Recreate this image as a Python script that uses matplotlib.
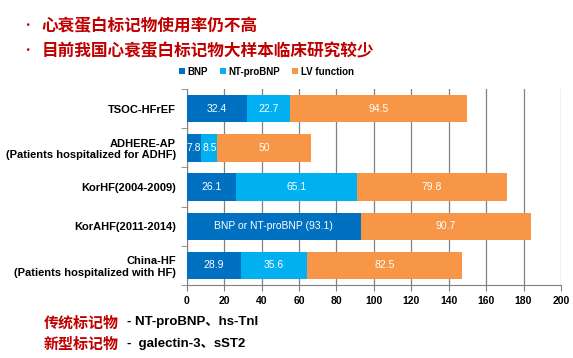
import matplotlib.pyplot as plt
import numpy as np

plt.rcParams['font.family'] = ['Liberation Sans', 'Noto Sans CJK SC', 'DejaVu Sans']

studies = ["TSOC-HFrEF",
           "ADHERE-AP\n(Patients hospitalized for ADHF)",
           "KorHF(2004-2009)",
           "KorAHF(2011-2014)",
           "China-HF\n(Patients hospitalized with HF)"]
bnp = [32.4, 7.8, 26.1, 93.1, 28.9]
ntprobnp = [22.7, 8.5, 65.1, 0, 35.6]
lv_function = [94.5, 50, 79.8, 90.7, 82.5]
bnp_labels = ["32.4", "7.8", "26.1", "BNP or NT-proBNP (93.1)", "28.9"]

c_bnp = "#0070C0"
c_nt = "#00B0F0"
c_lv = "#F79646"
red = "#C00000"

fig = plt.figure(figsize=(5.73, 3.58), dpi=100)
ax = fig.add_axes([0.326, 0.204, 0.653, 0.547])

y = np.arange(len(studies))
h = 0.7
b1 = ax.barh(y, bnp, height=h, color=c_bnp, label="BNP", zorder=3)
left2 = np.array(bnp)
b2 = ax.barh(y, ntprobnp, left=left2, height=h, color=c_nt, label="NT-proBNP", zorder=3)
left3 = left2 + np.array(ntprobnp)
b3 = ax.barh(y, lv_function, left=left3, height=h, color=c_lv, label="LV function", zorder=3)

# white value labels centred in each segment
lab_kw = dict(color="white", fontsize=7.5, va="center", ha="center", zorder=4)
for i in range(len(studies)):
    ax.text(bnp[i] / 2, y[i], bnp_labels[i], **lab_kw)
    if ntprobnp[i] > 0:
        ax.text(left2[i] + ntprobnp[i] / 2, y[i], "%g" % ntprobnp[i], **lab_kw)
    ax.text(left3[i] + lv_function[i] / 2, y[i], "%g" % lv_function[i], **lab_kw)

ax.set_xlim(0, 200)
ax.set_ylim(len(studies) - 0.5, -0.5)
ax.set_xticks(np.arange(0, 201, 20))
ax.set_xticklabels([str(v) for v in range(0, 201, 20)], fontsize=7.5, fontweight="bold")
ax.set_yticks(y)
ax.set_yticklabels(studies, fontsize=8, fontweight="bold", linespacing=1.2)
ax.tick_params(axis="y", length=0, pad=8)
ax.set_yticks(np.arange(-0.5, len(studies), 1), minor=True)
ax.tick_params(axis="y", which="minor", length=4, color="#808080")
ax.tick_params(axis="x", length=4, color="#808080", pad=4)
ax.grid(axis="x", color="#808080", linewidth=0.9, zorder=0)
for s in ["top", "right"]:
    ax.spines[s].set_visible(False)
for s in ["left", "bottom"]:
    ax.spines[s].set_color("#808080")

fig.legend(handles=[b1, b2, b3], loc="center", bbox_to_anchor=(0.465, 0.80), ncol=3,
           frameon=False, handlelength=0.6, handleheight=0.6,
           handletextpad=0.3, columnspacing=1.2, prop={"weight": "bold", "size": 7})

title_font = ['Noto Sans CJK SC', 'DejaVu Sans']
fig.text(0.036, 0.928, "•", color=red, fontsize=9, va="center", family=title_font)
fig.text(0.073, 0.928, "心衰蛋白标记物使用率仍不高", color=red, fontsize=12,
         va="center", family=title_font, fontweight="bold")
fig.text(0.036, 0.858, "•", color=red, fontsize=9, va="center", family=title_font)
fig.text(0.073, 0.858, "目前我国心衰蛋白标记物大样本临床研究较少", color=red, fontsize=12,
         va="center", family=title_font, fontweight="bold")

fig.text(0.076, 0.100, "传统标记物", color=red, fontsize=10.8, va="center",
         family=title_font, fontweight="bold")
fig.text(0.222, 0.100, "- NT-proBNP、hs-TnI", color="black", fontsize=9.5, va="center",
         family=['Liberation Sans', 'Noto Sans CJK SC'], fontweight="bold")
fig.text(0.076, 0.040, "新型标记物", color=red, fontsize=10.8, va="center",
         family=title_font, fontweight="bold")
fig.text(0.222, 0.040, "-  galectin-3、sST2", color="black", fontsize=9.5, va="center",
         family=['Liberation Sans', 'Noto Sans CJK SC'], fontweight="bold")

fig.savefig("out.png", dpi=100)
